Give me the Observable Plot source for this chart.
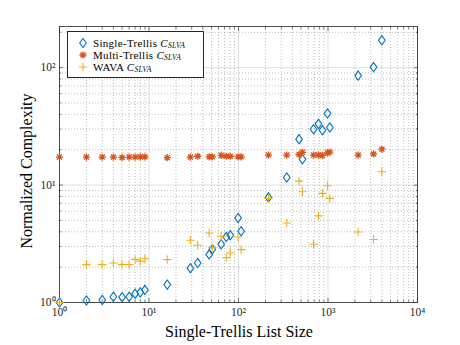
<!DOCTYPE html>
<html><head><meta charset="utf-8">
<script src="https://cdn.jsdelivr.net/npm/d3@7"></script>
<script src="https://cdn.jsdelivr.net/npm/@observablehq/plot@0.6"></script>
<style>
body{margin:0;background:#fff;}
#wrap{position:relative;width:460px;height:345px;font-family:"Liberation Serif",serif;}
.legend{position:absolute;left:67px;top:31px;width:137px;height:47px;border:0.8px solid #262626;background:#fff;box-sizing:border-box;font-size:11px;letter-spacing:0.3px;color:#000;padding-top:4.5px;line-height:12.4px;}
.legend .row{display:flex;align-items:center;height:12.4px;line-height:12.4px;}
.legend svg{margin-left:10px;margin-right:5px;flex:none;}
.legend i{line-height:0;}
.legend i sub{font-size:7.5px;line-height:0;vertical-align:-1.2px;letter-spacing:0.2px;}
.xlabel,.ylabel{position:absolute;font-size:16px;color:#000;white-space:nowrap;line-height:1;}
</style></head><body><div id="wrap"></div>
<script>
const listSize = [1,2,3,4,5,6,7,8,9,16,29,35,47,51,64,73,81,99,107,216,346,475,518,689,783,867,987,1048,2173,3229,4000];
const singleTrellis = [1.0,1.04,1.05,1.12,1.11,1.12,1.19,1.22,1.28,1.42,1.96,2.17,2.56,2.84,3.13,3.61,3.74,5.25,4.04,7.85,11.6,24.6,16.6,29.9,33.2,29.3,40.7,30.9,85.5,101,171];
const multiTrellis = [17.3,17.3,17.3,17.3,17.2,17.3,17.3,17.4,17.4,17.1,17.3,17.6,17.4,17.4,17.9,17.6,17.6,17.4,17.4,18.0,18.0,18.2,19.0,18.0,18.0,17.9,18.8,19.1,18.0,18.4,20.2];
const wava = [1.0,2.10,2.10,2.17,2.10,2.10,2.33,2.25,2.36,2.32,3.39,3.07,3.91,2.93,3.66,2.41,2.64,3.61,2.82,7.7,4.76,10.8,8.77,3.13,5.47,8.5,9.86,7.7,3.99,3.44,13.0];
const xMajorTicks = [1,10,100,1000,10000];
const yMajorTicks = [1,10,100];
const seriesNames = ["Single-Trellis", "Multi-Trellis", "WAVA"];
const colors = ["#0072BD", "#D95319", "#EDB120"];

const supDigits = {"0":"⁰","1":"¹","2":"²","3":"³","4":"⁴","5":"⁵","6":"⁶","7":"⁷","8":"⁸","9":"⁹","-":"⁻"};
const sup = d => "10" + String(Math.round(Math.log10(d))).split("").map(c => supDigits[c]).join("");

function minorTicks(lo, hi) {
  const out = [];
  for (let e = lo; e < hi; e++) for (let m = 2; m <= 9; m++) out.push(m * 10 ** e);
  return out;
}
const xMinor = minorTicks(0, 4);
const yMinor = minorTicks(0, 3).filter(v => v <= 224);

const diamondSym = {draw(ctx, size) { const r = Math.sqrt(size / Math.PI); const w = r * 0.72; ctx.moveTo(0, -r); ctx.lineTo(w, 0); ctx.lineTo(0, r); ctx.lineTo(-w, 0); ctx.closePath(); }};
const starSym = {draw(ctx, size) { const r = Math.sqrt(size / Math.PI); const q = r * 0.7071;
  ctx.moveTo(0,-r); ctx.lineTo(0,r); ctx.moveTo(-r,0); ctx.lineTo(r,0);
  ctx.moveTo(-q,-q); ctx.lineTo(q,q); ctx.moveTo(-q,q); ctx.lineTo(q,-q); }};
const plusSym = {draw(ctx, size) { const r = Math.sqrt(size / Math.PI);
  ctx.moveTo(0,-r); ctx.lineTo(0,r); ctx.moveTo(-r,0); ctx.lineTo(r,0); }};

const rows = listSize.map((x, i) => ({x, s: singleTrellis[i], m: multiTrellis[i], w: wava[i]}));
const axisColor = "#262626";

const chart = Plot.plot({
  width: 460, height: 345,
  marginLeft: 59, marginRight: 43, marginTop: 26, marginBottom: 43,
  x: {type: "log", domain: [1, 1e4]},
  y: {type: "log", domain: [1, 224]},
  style: {fontFamily: "Liberation Serif, serif", fontSize: "11.5px", background: "#fff", color: "#262626"},
  marks: [
    Plot.gridX(xMinor, {stroke: axisColor, strokeOpacity: 0.3, strokeDasharray: "1,2"}),
    Plot.gridY(yMinor, {stroke: axisColor, strokeOpacity: 0.3, strokeDasharray: "1,2"}),
    Plot.gridX(xMajorTicks, {stroke: axisColor, strokeOpacity: 0.15}),
    Plot.gridY(yMajorTicks, {stroke: axisColor, strokeOpacity: 0.15}),
    Plot.axisX(xMajorTicks, {anchor: "bottom", tickSize: 0, tickPadding: 5, tickFormat: sup, fill: "#262626", label: null}),
    Plot.axisY(yMajorTicks, {anchor: "left", tickSize: 0, tickPadding: 4, tickFormat: sup, fill: "#262626", label: null}),
    Plot.axisX(xMajorTicks, {anchor: "bottom", tickSize: -4, text: null, label: null, stroke: axisColor, strokeWidth: 0.6}),
    Plot.axisX(xMajorTicks, {anchor: "top", tickSize: -4, text: null, label: null, stroke: axisColor, strokeWidth: 0.6}),
    Plot.axisY(yMajorTicks, {anchor: "left", tickSize: -4, text: null, label: null, stroke: axisColor, strokeWidth: 0.6}),
    Plot.axisY(yMajorTicks, {anchor: "right", tickSize: -4, text: null, label: null, stroke: axisColor, strokeWidth: 0.6}),
    Plot.axisX(xMinor, {anchor: "bottom", tickSize: -2.2, text: null, label: null, stroke: axisColor, strokeWidth: 0.6}),
    Plot.axisX(xMinor, {anchor: "top", tickSize: -2.2, text: null, label: null, stroke: axisColor, strokeWidth: 0.6}),
    Plot.axisY(yMinor, {anchor: "left", tickSize: -2.2, text: null, label: null, stroke: axisColor, strokeWidth: 0.6}),
    Plot.axisY(yMinor, {anchor: "right", tickSize: -2.2, text: null, label: null, stroke: axisColor, strokeWidth: 0.6}),
    Plot.frame({stroke: axisColor, strokeWidth: 0.8}),
    Plot.dot(rows, {x: "x", y: "s", symbol: diamondSym, r: 4.6, stroke: colors[0], strokeWidth: 1.1, fill: "none"}),
    Plot.dot(rows, {x: "x", y: "m", symbol: starSym, r: 3.6, stroke: colors[1], strokeWidth: 1.3}),
    Plot.dot(rows, {x: "x", y: "w", symbol: plusSym, r: 4.2, stroke: colors[2], strokeWidth: 1.1})
  ]
});

const wrap = document.getElementById("wrap");
wrap.appendChild(chart);

const xl = document.createElement("div");
xl.className = "xlabel"; xl.textContent = "Single-Trellis List Size";
xl.style.left = "239px"; xl.style.top = "324px"; xl.style.transform = "translateX(-50%)";
wrap.appendChild(xl);
const yl = document.createElement("div");
yl.className = "ylabel"; yl.textContent = "Normalized Complexity";
yl.style.left = "27px"; yl.style.top = "171px"; yl.style.transform = "translate(-50%,-50%) rotate(-90deg)";
wrap.appendChild(yl);

const icons = [
  `<path d="M5,0.5 L8.3,5 L5,9.5 L1.7,5 Z" fill="none" stroke="${colors[0]}" stroke-width="1.1"/>`,
  `<path d="M5,1.4V8.6M1.4,5H8.6M2.45,2.45L7.55,7.55M2.45,7.55L7.55,2.45" stroke="${colors[1]}" stroke-width="1.3"/>`,
  `<path d="M5,0.8V9.2M0.8,5H9.2" stroke="${colors[2]}" stroke-width="1.1"/>`
];
const leg = document.createElement("div");
leg.className = "legend";
leg.innerHTML = seriesNames.map((n, i) =>
  `<div class="row"><svg width="10" height="10" viewBox="0 0 10 10">${icons[i]}</svg><span>${n} <i>C<sub>SLVA</sub></i></span></div>`).join("");
wrap.appendChild(leg);
</script>
</body></html>
